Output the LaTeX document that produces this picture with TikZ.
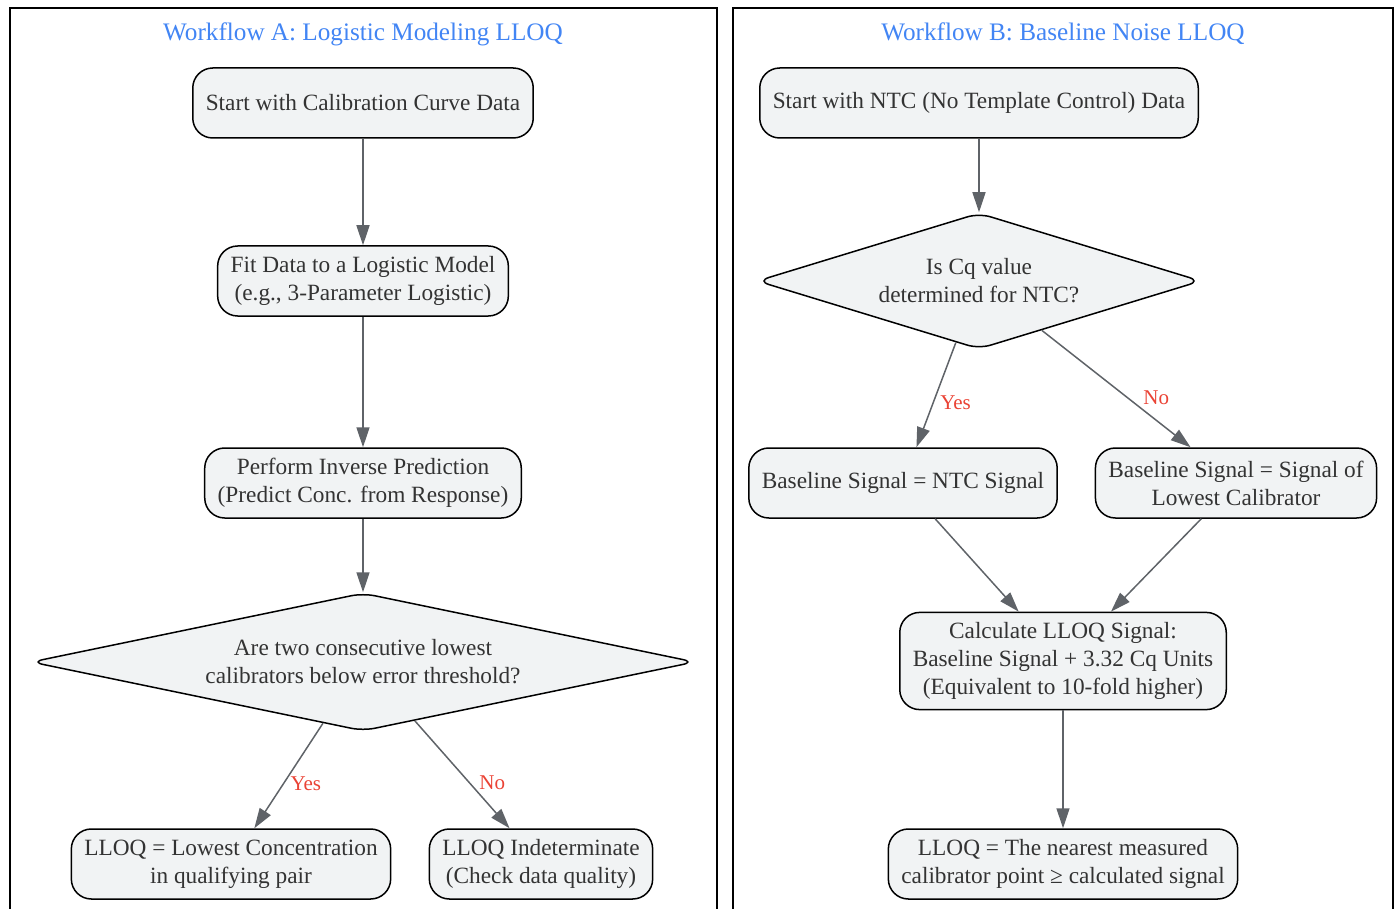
\documentclass[tikz,border=0pt]{standalone}
\usepackage{fontspec}
\setmainfont{Liberation Serif}
\usetikzlibrary{shapes.geometric}
\usetikzlibrary{arrows.meta}
\definecolor{BLUE}{HTML}{4285F4}
\definecolor{RED}{HTML}{EA4335}
\definecolor{BOXFILL}{HTML}{F1F3F4}
\definecolor{EDGE}{HTML}{5F6368}
\definecolor{INK}{HTML}{333333}
\tikzset{
	every node/.style = {font=\fontsize{23.3}{28}\selectfont, text=INK},
	title/.style = {font=\fontsize{25.2}{30}\selectfont, text=BLUE},
	box/.style = {draw=black, fill=BOXFILL, line width=1.5pt, rounded corners=20pt, align=center, inner xsep=13pt, inner ysep=10pt, minimum height=70pt},
	decision/.style = {draw=black, fill=BOXFILL, line width=1.5pt, diamond, rounded corners=12pt, align=center, inner sep=0pt},
	arr/.style = {draw=EDGE, line width=1.5pt, -{Triangle[length=20pt,width=13pt]}},
	lbl/.style = {font=\fontsize{21}{25}\selectfont, text=RED, right=3pt, pos=.575}
}

\begin{document}
\begin{tikzpicture}[x=1pt, y=-1pt]
	\useasboundingbox (0,0) rectangle (1399,909);
	% frames
	\draw[line width=1.5pt] (10,909) |- (717,8) -- (717,909);
	\draw[line width=1.5pt] (733,909) |- (1393,8) -- (1393,909);
	
	% workflow A
	\node[title] (titleA) at (363,34) {Workflow A: Logistic Modeling LLOQ};
	\node[box] (startA) at (363,103) {Start with Calibration Curve Data};
	\node[box] (fitA) at (363,281) {Fit Data to a Logistic Model\\(e.g., 3-Parameter Logistic)};
	\node[box] (predA) at (363,483) {Perform Inverse Prediction\\(Predict Conc. from Response)};
	\node[decision, aspect=4.8, minimum width=664pt, minimum height=138pt] (checkA) at (363,662) {Are two consecutive lowest\\calibrators below error threshold?};
	\node[box] (lowA) at (231,864) {LLOQ = Lowest Concentration\\in qualifying pair};
	\node[box] (indetA) at (541,864) {LLOQ Indeterminate\\(Check data quality)};
	
	\draw[arr] (startA) -- (fitA);
	\draw[arr] (fitA) -- (predA);
	\draw[arr] (predA) -- (checkA);
	\draw[arr] (checkA) -- node[lbl] {Yes} (lowA);
	\draw[arr] (checkA) -- node[lbl, xshift=3pt] {No} (indetA);
	
	% workflow B
	\node[title] (titleB) at (1063,34) {Workflow B: Baseline Noise LLOQ};
	\node[box] (startB) at (979,103) {Start with NTC (No Template Control) Data};
	\node[decision, aspect=3.2, minimum width=444pt, minimum height=136pt] (checkB) at (979,281) {Is Cq value\\determined for NTC?};
	\node[box] (ntcB) at (903,483) {Baseline Signal = NTC Signal};
	\node[box] (calB) at (1236,483) {Baseline Signal = Signal of\\Lowest Calibrator};
	\node[box] (calcB) at (1063,661) {Calculate LLOQ Signal:\\Baseline Signal + 3.32 Cq Units\\(Equivalent to 10-fold higher)};
	\node[box] (lloqB) at (1063,864) {LLOQ = The nearest measured\\calibrator point ≥ calculated signal};
	
	\draw[arr] (startB) -- (checkB);
	\draw[arr] (checkB) -- node[lbl] {Yes} (ntcB);
	\draw[arr] (checkB) -- node[lbl, xshift=9pt] {No} (calB);
	\draw[arr] (ntcB) -- (calcB);
	\draw[arr] (calB) -- (calcB);
	\draw[arr] (calcB) -- (lloqB);
\end{tikzpicture}
\end{document}
